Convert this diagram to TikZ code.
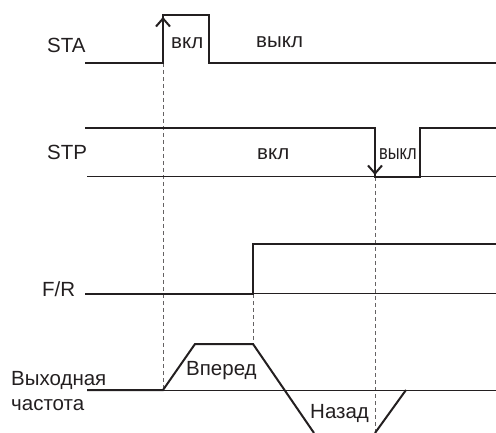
\documentclass[tikz,border=0pt]{standalone}
\usepackage{fontspec}
\usepackage{graphicx}
\setmainfont{Liberation Sans}
\usetikzlibrary{arrows.meta}
\definecolor{ink}{HTML}{231F20}
\begin{document}
\begin{tikzpicture}[x=1pt,y=-1pt,
  sig/.style={line width=2pt, draw=ink, line join=miter},
  base/.style={line width=1pt, draw=ink},
  guide/.style={line width=1pt, draw=ink!70, dash pattern=on 4pt off 3pt},
  lbl/.style={inner sep=0pt, anchor=base west, font=\fontsize{20.5}{23}\selectfont, text=ink},
  tip/.style={-{Straight Barb[length=8pt,width=14pt,line width=2pt]}}
]
\useasboundingbox (0,0) rectangle (496,433);
% labels
\node[lbl] (sta) at (47,53) {STA};
\node[lbl] (stavkl) at (171,49) {вкл};
\node[lbl] (stavykl) at (256,48) {выкл};
\node[lbl] (stp) at (47,160) {STP};
\node[lbl] (stpvkl) at (257,160) {вкл};
\node[lbl] (stpvykl) at (379,160) {\scalebox{0.8}[1]{выкл}};
\node[lbl] (fr) at (42,297) {F/R};
\node[lbl] (vyh) at (11,385) {Выходная};
\node[lbl] (chast) at (11,410) {частота};
\node[lbl] (vpered) at (186,375) {Вперед};
\node[lbl] (nazad) at (310,418) {Назад};
% key coordinates
\coordinate (t1) at (163,63);
\coordinate (t1b) at (163,390);
\coordinate (t2) at (253,294);
\coordinate (t2b) at (253,344);
\coordinate (t3) at (375,177);
\coordinate (t3b) at (375,433);
% guides
\draw[guide] (t1) -- (t1b);
\draw[guide] (t2) -- (t2b);
\draw[guide] (t3) -- (t3b);
% STA
\draw[sig] (85,63) -- (t1) -- (163,15) -- (209,15) -- (209,63) -- (496,63);
\draw[sig,tip] (t1) -- (163,17);
% STP
\draw[base] (87,177) -- (496,177);
\draw[sig] (85,128) -- (375,128) -- (t3) -- (420,177) -- (420,128) -- (496,128);
\draw[sig,tip] (375,128) -- (375,175);
% F/R
\draw[base] (t2) -- (496,294);
\draw[sig] (85,294) -- (t2) -- (253,244) -- (496,244);
% frequency
\draw[base] (t1b) -- (496,390);
\draw[sig] (87,390) -- (t1b) -- (195,344) -- (t2b) -- (314,433);
\draw[sig] (t3b) -- (406,390);
\end{tikzpicture}
\end{document}
